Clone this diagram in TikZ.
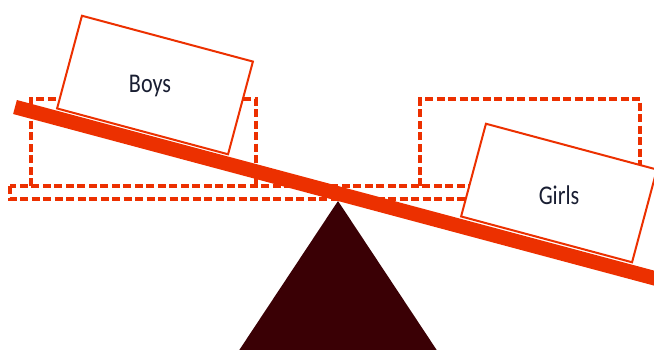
\documentclass[tikz,border=0pt]{standalone}
\usepackage{fontspec}
\newfontfamily\labelfont[FakeStretch=0.82]{Carlito}
\usepackage{tikz}
\usetikzlibrary{calc}
\definecolor{beamred}{RGB}{236,48,0}
\definecolor{fulcrumcolor}{RGB}{58,0,5}
\definecolor{labelcolor}{RGB}{25,30,50}

\begin{document}
\begin{tikzpicture}[
  x=1pt, y=-1pt,
  pan/.style   = {rectangle, draw=beamred, line width=2pt, fill=white,
                  minimum width=177pt, minimum height=96pt, inner sep=0pt,
                  rotate=-15},
  lbl/.style   = {font=\labelfont\fontsize{27}{30}\selectfont,
                  text=labelcolor, anchor=base, inner sep=0pt},
  ghost/.style = {draw=beamred, line width=3.3pt,
                  dash pattern=on 8pt off 3.5pt},
  beam/.style  = {draw=beamred, line width=14.5pt}
]
\useasboundingbox (0,0) rectangle (654,349);
\clip (0,0) rectangle (654,349);

% level position, dashed
\draw[ghost] (10,186) rectangle (644,199);
\draw[ghost] (31,186) -- (31,99) -- (256,99) -- (256,186);
\draw[ghost] (420,186) -- (420,99) -- (640,99) -- (640,186);

% fulcrum
\coordinate (pivot) at (338,201);
\fill[fulcrumcolor] (pivot) -- ($(pivot)+(-106,160)$) -- ($(pivot)+(106,160)$) -- cycle;

% tilted seesaw
\node[pan] (boys)  at (155,85)  {};
\node[pan] (girls) at (559,193) {};
\node[lbl] (boys-lbl)  at ([xshift=-5pt,yshift=-7pt]boys.center)  {Boys};
\node[lbl] (girls-lbl) at ([yshift=-11pt]girls.center) {Girls};

\coordinate (beam-l) at (15,107);
\coordinate (beam-r) at (675,283.7);
\draw[beam] (beam-l) -- (beam-r);
\end{tikzpicture}
\end{document}
